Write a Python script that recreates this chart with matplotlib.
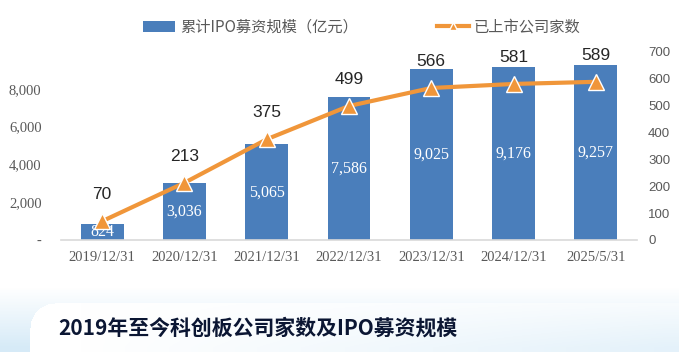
import matplotlib.pyplot as plt
import numpy as np

plt.rcParams['font.family'] = ['Noto Sans CJK SC', 'DejaVu Sans']

# data
dates = ['2019/12/31', '2020/12/31', '2021/12/31', '2022/12/31',
         '2023/12/31', '2024/12/31', '2025/5/31']
ipo_amount = [824, 3036, 5065, 7586, 9025, 9176, 9257]
companies = [70, 213, 375, 499, 566, 581, 589]
left_ticks = [0, 2000, 4000, 6000, 8000]
left_labels = ['-', '2,000', '4,000', '6,000', '8,000']

W, H = 679, 352
fig = plt.figure(figsize=(W / 100, H / 100), dpi=100)

# background band behind the title
band = fig.add_axes([0, 0, 1, 80 / H])
band.set_axis_off()
bh, bw = 80, W
yy, xx = np.mgrid[0:bh, 0:bw]  # yy=0 is top of band (pixel y=272)
t = np.clip((yy - 15) / 60, 0, 1)
light = np.array([0.84, 0.92, 0.97])
img = np.ones((bh, bw, 3)) * (1 - t[..., None]) + light * t[..., None]
# white rounded panel
px, py = xx, yy + 272
r = 25
inside = (px >= 30) & (py >= 303)
corner = (px < 30 + r) & (py < 303 + r)
dist = np.hypot(px - (30 + r), py - (303 + r))
inside &= ~(corner & (dist > r))
fade = np.clip(1 - (px - 80) / 900, 0.35, 1)
a = (inside * fade)[..., None]
img = img * (1 - a) + a
band.imshow(img, extent=[0, 1, 0, 1], aspect='auto', interpolation='bilinear')
band.set_xlim(0, 1)
band.set_ylim(0, 1)

ax = fig.add_axes([61 / W, 1 - 240 / H, 576 / W, 188 / H])
ax.patch.set_alpha(0)
x = np.arange(len(dates))
bars = ax.bar(x, ipo_amount, width=0.52, color='#4a7ebb', zorder=2,
              label='累计IPO募资规模（亿元）')
ax.set_xlim(-0.5, len(dates) - 0.5)
ax.set_ylim(0, 9950)
ax.set_yticks(left_ticks)
ax.set_yticklabels(left_labels)
ax.set_xticks(x)
ax.set_xticklabels(dates)
for lab in ax.get_xticklabels() + ax.get_yticklabels():
    lab.set_family('Liberation Serif')
    lab.set_fontsize(10.5)
    lab.set_color('#595959')
ax.tick_params(axis='both', length=0)
ax.tick_params(axis='x', pad=8)
ax.tick_params(axis='y', pad=14)
for s in ['top', 'right', 'left']:
    ax.spines[s].set_visible(False)
ax.spines['bottom'].set_color('#d9d9d9')
ax.spines['bottom'].set_linewidth(1.2)

for b, v in zip(bars, ipo_amount):
    ax.text(b.get_x() + b.get_width() / 2, v / 2, f'{v:,}', ha='center',
            va='center', color='white', fontsize=11.5,
            family='Liberation Serif', zorder=3)

ax2 = ax.twinx()
ax2.patch.set_alpha(0)
line, = ax2.plot(x, companies, color='#f0963a', lw=3, marker='^',
                 markersize=11, markerfacecolor='#f0963a',
                 markeredgecolor='white', markeredgewidth=1,
                 label='已上市公司家数', zorder=4)
ax2.set_ylim(0, 700)
ax2.set_yticks(range(0, 701, 100))
for lab in ax2.get_yticklabels():
    lab.set_family('Liberation Sans')
    lab.set_fontsize(9.5)
    lab.set_color('#595959')
ax2.tick_params(axis='y', length=0, pad=8)
for s in ax2.spines.values():
    s.set_visible(False)

for xi, v in zip(x, companies):
    ax2.annotate(str(v), (xi, v), xytext=(0, 19), textcoords='offset points',
                 ha='center', va='center', fontsize=12.5, color='#262626',
                 family=['Liberation Sans', 'DejaVu Sans'])

leg = fig.legend(handles=[bars, line], loc='center',
                 bbox_to_anchor=(362 / W, 1 - 27 / H), ncol=2, frameon=False,
                 fontsize=11, handlelength=2.1, columnspacing=5.2,
                 handletextpad=0.3, markerscale=0.5)
for txt in leg.get_texts():
    txt.set_color('#595959')

fig.text(58 / W, 1 - 328 / H, '2019年至今科创板公司家数及IPO募资规模',
         ha='left', va='center', fontsize=15, fontweight='bold',
         color='#0b1633')

fig.savefig('out.png', dpi=100)
